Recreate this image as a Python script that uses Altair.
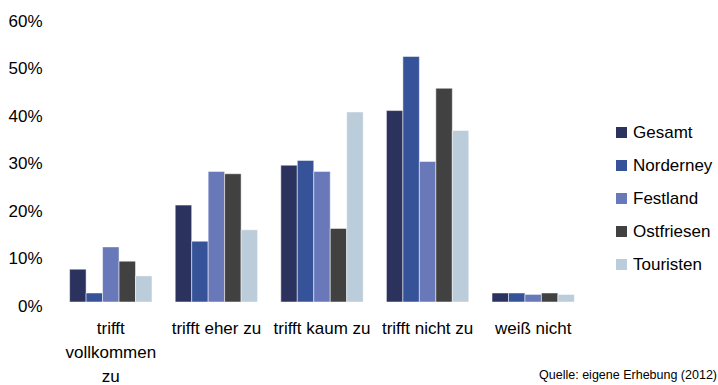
import altair as alt
import pandas as pd

categories = ["trifft vollkommen zu", "trifft eher zu", "trifft kaum zu", "trifft nicht zu", "weiß nicht"]
series = ["Gesamt", "Norderney", "Festland", "Ostfriesen", "Touristen"]
gesamt = [0.069, 0.204, 0.288, 0.403, 0.019]
norderney = [0.019, 0.128, 0.298, 0.517, 0.019]
festland = [0.116, 0.275, 0.275, 0.296, 0.016]
ostfriesen = [0.086, 0.270, 0.155, 0.450, 0.019]
touristen = [0.055, 0.152, 0.400, 0.361, 0.016]
colors = ["#2B325E", "#36539A", "#6878B9", "#414141", "#BBCCDA"]
y_ticks = [0, 0.1, 0.2, 0.3, 0.4, 0.5, 0.6]
source_text = "Quelle: eigene Erhebung (2012)"

rows = []
for s, vals in zip(series, [gesamt, norderney, festland, ostfriesen, touristen]):
    for c, v in zip(categories, vals):
        rows.append({"cat": c, "series": s, "value": v})
df = pd.DataFrame(rows)

FONT = "Liberation Sans"

bars = alt.Chart(df).mark_bar(stroke="white", strokeWidth=0.5).encode(
    x=alt.X("cat:N", sort=categories, title=None,
            scale=alt.Scale(paddingInner=0.22, paddingOuter=0.11),
            axis=alt.Axis(labelAngle=0, domain=False, ticks=False, labelFontSize=17,
                          labelFont=FONT, labelColor="black", labelPadding=18,
                          labelLineHeight=24, labelLimit=300,
                          labelExpr="datum.value == 'trifft vollkommen zu' ? ['trifft', 'vollkommen', 'zu'] : datum.label")),
    xOffset=alt.XOffset("series:N", sort=series),
    y=alt.Y("value:Q", title=None, scale=alt.Scale(domain=[0, 0.6], nice=False),
            axis=alt.Axis(values=y_ticks, format=".0%", grid=False, domain=False, ticks=False,
                          labelFontSize=17, labelFont=FONT, labelColor="black",
                          labelPadding=16, labelOffset=4)),
    color=alt.Color("series:N", sort=series, scale=alt.Scale(domain=series, range=colors),
                    legend=alt.Legend(title=None, orient="none", legendX=555, legendY=107,
                                      symbolType="square", symbolSize=121, symbolStrokeWidth=0,
                                      labelFontSize=17, labelFont=FONT, labelColor="black",
                                      rowPadding=15, labelOffset=3)),
)

src = alt.Chart(pd.DataFrame({"t": [source_text]})).mark_text(
    align="right", baseline="middle", fontSize=12.5, font=FONT, color="black"
).encode(text="t:N", x=alt.value(659), y=alt.value(358))

chart = alt.layer(bars, src).properties(
    width=528, height=285, autosize="none",
    padding={"left": 58, "top": 17, "right": 132, "bottom": 83},
).configure_view(stroke=None)

chart.save("out.html", embed_options={"renderer": "svg", "actions": False})
